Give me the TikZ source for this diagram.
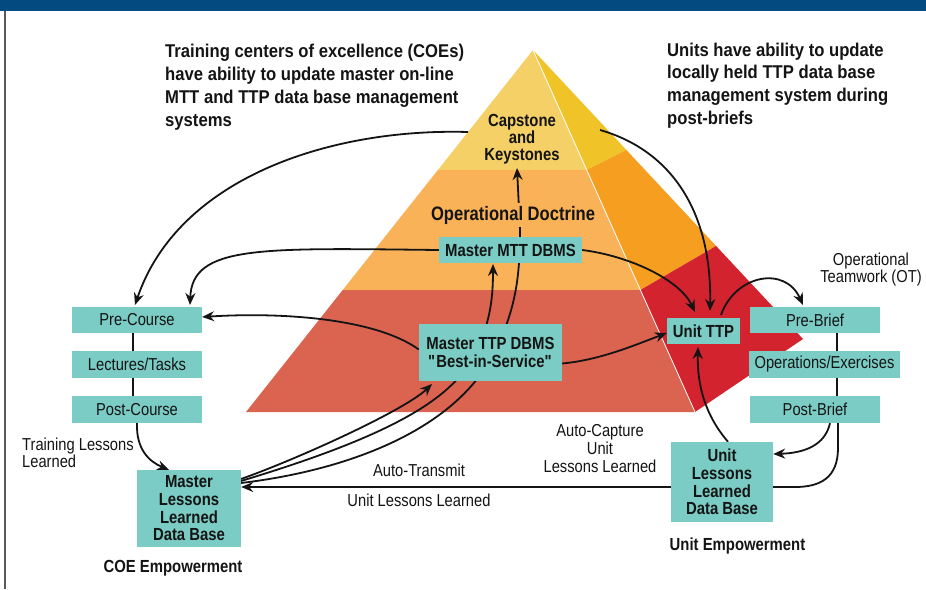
\documentclass[tikz,border=0pt]{standalone}
\usepackage{fontspec}
\setmainfont{Liberation Sans}[FakeStretch=0.9]
\newfontfamily\cond{Liberation Sans}[FakeStretch=0.85]
\usetikzlibrary{arrows.meta}
\definecolor{boxc}{RGB}{122,204,196}
\definecolor{ink}{RGB}{20,20,20}
\definecolor{band1}{RGB}{244,208,103}
\definecolor{band2}{RGB}{249,178,87}
\definecolor{band3}{RGB}{219,100,80}
\definecolor{side1}{RGB}{240,196,40}
\definecolor{side2}{RGB}{245,158,31}
\definecolor{side3}{RGB}{210,35,46}
\definecolor{topband}{RGB}{2,74,128}
\pgfdeclarelayer{bg}
\pgfdeclarelayer{lines}
\pgfsetlayers{bg,lines,main}
\begin{document}
\begin{tikzpicture}[x=1pt,y=-1pt,
  box/.style={fill=boxc, inner sep=0pt, align=center, text=ink},
  reg/.style={font=\cond\fontsize{17.3}{17}\selectfont, text=ink},
  bld/.style={font=\cond\fontsize{17.5}{17.7}\selectfont\bfseries, text=ink},
  conn/.style={line width=1.8pt, draw=ink},
  arr/.style={conn, -{Stealth[length=12pt,width=10pt,inset=4pt]}},
  head/.style={anchor=north west, inner sep=0pt, align=left, font=\fontsize{18.5}{22.8}\selectfont\bfseries, text=ink}
]
\useasboundingbox (0,0) rectangle (926,589);

\begin{pgfonlayer}{bg}
  \fill[white] (0,0) rectangle (926,589);
  \fill[topband] (0,0) rectangle (926,11);
  \draw[gray!70!black, line width=1.2pt] (5,11) -- (5,589);
  % front face bands
  \fill[band1] (533,50) -- (437.9,170) -- (586.7,170) -- cycle;
  \fill[band2] (437.9,170) -- (586.7,170) -- (640.4,290) -- (342.7,290) -- cycle;
  \fill[band3] (342.7,290) -- (640.4,290) -- (695,412) -- (246,412) -- cycle;
  % side face bands
  \fill[side1] (533,50) -- (586.7,170) -- (626.4,150) -- cycle;
  \fill[side2] (586.7,170) -- (626.4,150) -- (716.1,246) -- (640.4,290) -- cycle;
  \fill[side3] (640.4,290) -- (716.1,246) -- (803,339) -- (695,412) -- cycle;
  \draw[white, line width=0.8pt] (533,50) -- (695,412);
\end{pgfonlayer}

% headings
\node[head] (hl) at (165,44) {Training centers of excellence (COEs)\\have ability to update master on-line\\MTT and TTP data base management\\systems};
\node[head] (hr) at (667,42.5) {Units have ability to update\\locally held TTP data base\\management system during\\post-briefs};

% pyramid labels
\node[anchor=north, inner sep=0pt, align=center, font=\cond\fontsize{17.5}{16.6}\selectfont\bfseries, text=ink] (cap) at (522,114.5) {Capstone\\and\\Keystones};
\node[anchor=base, fill=band2, inner sep=3pt, font=\cond\fontsize{19.5}{20}\selectfont\bfseries, text=ink] (opd) at (513,220) {Operational Doctrine};

% boxes
\node[box,bld,minimum width=143pt,minimum height=26pt] (mtt) at (510.5,250) {Master MTT DBMS};
\node[box,bld,minimum width=143pt,minimum height=57pt] (ttp) at (490.5,352.5) {Master TTP DBMS\\\textquotedbl Best-in-Service\textquotedbl};
\node[box,bld,minimum width=73pt,minimum height=26pt] (uttp) at (703.5,331) {Unit TTP};
\node[box,reg,minimum width=130pt,minimum height=26pt] (preb) at (815,320) {Pre-Brief};
\node[box,reg,minimum width=151pt,minimum height=27pt] (ops) at (824.5,364.5) {Operations/Exercises};
\node[box,reg,minimum width=130pt,minimum height=27pt] (postb) at (815,409.5) {Post-Brief};
\node[box,bld,minimum width=102pt,minimum height=80pt] (ull) at (722,482) {Unit\\Lessons\\Learned\\Data Base};
\node[box,reg,minimum width=130pt,minimum height=26pt] (prec) at (137,320) {Pre-Course};
\node[box,reg,minimum width=130pt,minimum height=27pt] (lect) at (137,364.5) {Lectures/Tasks};
\node[box,reg,minimum width=130pt,minimum height=27pt] (postc) at (137,409.5) {Post-Course};
\node[box,bld,minimum width=104pt,minimum height=77pt] (mll) at (189,508.5) {Master\\Lessons\\Learned\\Data Base};

% free labels
\node[reg, anchor=north, align=center, inner sep=0pt] (ot) at (871,252.5) {Operational\\Teamwork (OT)};
\node[reg, anchor=north west, align=left, inner sep=0pt] (tll) at (22,437.5) {Training Lessons\\Learned};
\node[reg, anchor=north, align=center, inner sep=0pt, font=\cond\fontsize{17.3}{17.8}\selectfont] (acu) at (600,424.5) {Auto-Capture\\Unit\\Lessons Learned};
\node[reg, anchor=base, inner sep=0pt] (atr) at (419,476.7) {Auto-Transmit};
\node[reg, anchor=base, inner sep=0pt] (ulltxt) at (419,506) {Unit Lessons Learned};
\node[bld, anchor=base, inner sep=0pt] (coe) at (173,572.7) {COE Empowerment};
\node[bld, anchor=base, inner sep=0pt] (ue) at (737.5,550) {Unit Empowerment};

% connector end points
\coordinate (capL) at (468,132);
\coordinate (capR) at (600,130);
\coordinate (capS) at (517,168);
\coordinate (preT1) at (135,305);
\coordinate (preT2) at (190,305);
\coordinate (llA) at (241,479);
\coordinate (llB) at (241,481);
\coordinate (llC) at (241,483);
\coordinate (ttpS1) at (432,384);
\coordinate (mttS) at (493,264);
\coordinate (uttpT1) at (695,312);
\coordinate (uttpT2) at (710,311);
\coordinate (uttpTR) at (721,315);
\coordinate (prebT) at (803,305);
\coordinate (uttpB) at (698,347);

\begin{pgfonlayer}{lines}
  \draw[arr] (capL) .. controls (330,128) and (178,178) .. (preT1);
  \draw[arr] (mtt.west) .. controls (260,248) and (192,245) .. (preT2);
  \draw[arr] ([yshift=3pt]ttp.west) .. controls (375,318) and (280,312) .. ([yshift=3pt]prec.east);
  \draw[arr] (llA) .. controls (300,458) and (405,410) .. (ttpS1);
  \draw[arr] (llB) .. controls (360,445) and (440,410) .. (468,365) .. controls (490,330) and (493,300) .. (mttS);
  \draw[arr] (llC) .. controls (350,470) and (450,430) .. (490,360) .. controls (515,315) and (520,280) .. (520,230) -- (capS);
  \draw[arr] (mtt.east) .. controls (630,256) and (680,280) .. (uttpT1);
  \draw[arr] (capR) .. controls (670,150) and (712,210) .. (uttpT2);
  \draw[arr] ([yshift=-11pt]ttp.east) .. controls (600,360) and (635,345) .. ([yshift=-2pt]uttp.west);
  \draw[arr] (uttpTR) .. controls (735,275) and (785,265) .. (prebT);
  \draw[arr] ([xshift=6pt]ull.north) .. controls (705,415) and (697,385) .. (uttpB);
  \draw[arr] ([xshift=15pt]postb.south) .. controls (825,445) and (805,453) .. ([yshift=28pt]ull.east);
  \draw[arr] ([xshift=23pt]postb.south) -- (838,448) .. controls (838,478) and (820,487) .. (795,487) -- ([yshift=21.5pt]mll.east);
  \draw[arr] (postc.south) .. controls (136,450) and (150,462) .. ([xshift=-20pt]mll.north);
  \draw[conn] ([xshift=-4pt]prec.south) -- ([xshift=-4pt]lect.north);
  \draw[conn] ([xshift=-4pt]lect.south) -- ([xshift=-4pt]postc.north);
  \draw[conn] ([xshift=22pt]preb.south) -- ([xshift=12.5pt]ops.north);
  \draw[conn] ([xshift=12.5pt]ops.south) -- ([xshift=22pt]postb.north);
\end{pgfonlayer}
\end{tikzpicture}
\end{document}
